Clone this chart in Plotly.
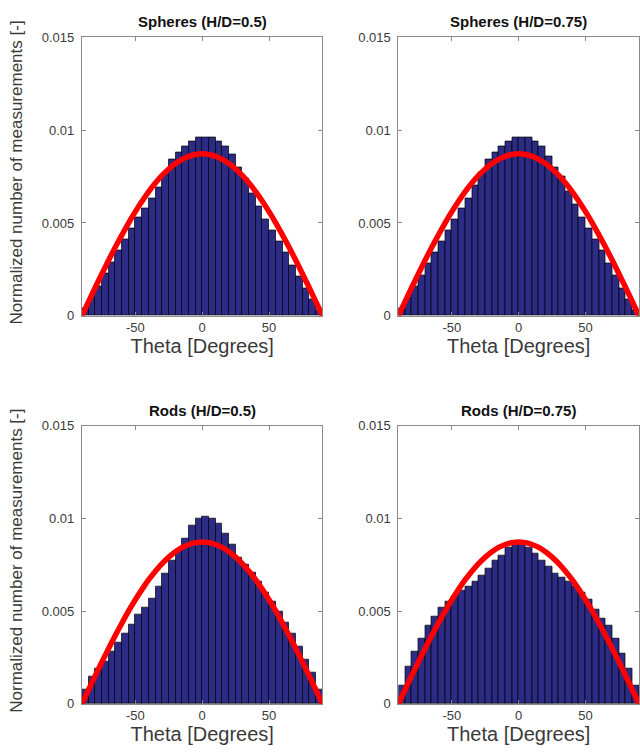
import plotly.graph_objects as go

# ---------------- data ----------------
theta_bins = [-87.5, -82.5, -77.5, -72.5, -67.5, -62.5, -57.5, -52.5, -47.5, -42.5,
              -37.5, -32.5, -27.5, -22.5, -17.5, -12.5, -7.5, -2.5,
              2.5, 7.5, 12.5, 17.5, 22.5, 27.5, 32.5, 37.5, 42.5, 47.5,
              52.5, 57.5, 62.5, 67.5, 72.5, 77.5, 82.5, 87.5]

spheres_05 = [0.0004, 0.0010, 0.0016, 0.0023, 0.0029, 0.0035, 0.0041, 0.0047, 0.0053, 0.0058,
              0.0063, 0.0069, 0.0076, 0.0084, 0.0088, 0.0091, 0.0094, 0.0096,
              0.0096, 0.0096, 0.0094, 0.0091, 0.0087, 0.0080, 0.0074, 0.0066, 0.0059, 0.0052,
              0.0046, 0.0040, 0.0034, 0.0027, 0.0021, 0.0015, 0.0009, 0.0003]

spheres_075 = [0.0004, 0.0010, 0.0016, 0.0022, 0.0028, 0.0034, 0.0040, 0.0046, 0.0052, 0.0058,
               0.0063, 0.0070, 0.0077, 0.0084, 0.0088, 0.0091, 0.0094, 0.0096,
               0.0096, 0.0096, 0.0094, 0.0091, 0.0086, 0.0080, 0.0075, 0.0067, 0.0060, 0.0053,
               0.0047, 0.0041, 0.0035, 0.0028, 0.0022, 0.0015, 0.0009, 0.0003]

rods_05 = [0.0008, 0.0015, 0.0019, 0.0023, 0.0028, 0.0033, 0.0038, 0.0043, 0.0048, 0.0052,
           0.0057, 0.0063, 0.0070, 0.0077, 0.0083, 0.0089, 0.0096, 0.0100,
           0.0101, 0.0100, 0.0097, 0.0092, 0.0086, 0.0079, 0.0075, 0.0071, 0.0066, 0.0060,
           0.0055, 0.0050, 0.0044, 0.0038, 0.0031, 0.0024, 0.0017, 0.0008]

rods_075 = [0.0010, 0.0020, 0.0028, 0.0035, 0.0042, 0.0047, 0.0052, 0.0055, 0.0058, 0.0061,
            0.0063, 0.0066, 0.0069, 0.0073, 0.0077, 0.0080, 0.0084, 0.0086,
            0.0086, 0.0084, 0.0081, 0.0077, 0.0074, 0.0070, 0.0068, 0.0066, 0.0063, 0.0060,
            0.0056, 0.0051, 0.0046, 0.0042, 0.0035, 0.0027, 0.0019, 0.0010]

fit_theta = [-90, -85, -80, -75, -70, -65, -60, -55, -50, -45, -40, -35, -30, -25, -20, -15, -10, -5,
             0, 5, 10, 15, 20, 25, 30, 35, 40, 45, 50, 55, 60, 65, 70, 75, 80, 85, 90]
fit_values = [0, 0.00076, 0.00152, 0.00226, 0.00299, 0.00369, 0.00436, 0.00501, 0.00561,
              0.00617, 0.00669, 0.00715, 0.00756, 0.00791, 0.00820, 0.00843, 0.00859, 0.00869,
              0.00873,
              0.00869, 0.00859, 0.00843, 0.00820, 0.00791, 0.00756, 0.00715, 0.00669, 0.00617,
              0.00561, 0.00501, 0.00436, 0.00369, 0.00299, 0.00226, 0.00152, 0.00076, 0]

panel_titles = ["Spheres (H/D=0.5)", "Spheres (H/D=0.75)", "Rods (H/D=0.5)", "Rods (H/D=0.75)"]
panel_data = [spheres_05, spheres_075, rods_05, rods_075]

x_tick_vals = [-50, 0, 50]
x_tick_text = ["-50", "0", "50"]
y_tick_vals = [0, 0.005, 0.01, 0.015]
y_tick_text = ["0", "0.005", "0.01", "0.015"]

x_title = "Theta [Degrees]"
y_title = "Normalized number of measurements [-]"

# ---------------- layout geometry (pixels) ----------------
W, H = 640, 756
x_doms_px = [(82, 323), (399, 640), (82, 323), (399, 640)]
y_doms_px = [(31, 315), (31, 315), (427, 711), (427, 711)]

BAR_COLOR = "#2c2b85"
FONT = "Liberation Sans, Arial, Helvetica, sans-serif"
LINE_COL = "#8a8a8a"
TEXT_COL = "#3a3a3a"

fig = go.Figure()
annotations = []
layout_axes = {}

for i in range(4):
    xa = "x" if i == 0 else f"x{i+1}"
    ya = "y" if i == 0 else f"y{i+1}"
    fig.add_trace(go.Bar(
        x=theta_bins, y=panel_data[i], xaxis=xa, yaxis=ya,
        marker=dict(color=BAR_COLOR, line=dict(color="#000000", width=0.7)),
        showlegend=False, hoverinfo="x+y"))
    fig.add_trace(go.Scatter(
        x=fit_theta, y=fit_values, xaxis=xa, yaxis=ya, mode="lines",
        line=dict(color="#ff0000", width=5.5, shape="spline"),
        showlegend=False))

    x0, x1 = x_doms_px[i]
    yt, yb = y_doms_px[i]
    xdom = [x0 / W, min(x1 / W, 1.0)]
    ydom = [(H - yb) / H, (H - yt) / H]
    xkey = "xaxis" if i == 0 else f"xaxis{i+1}"
    ykey = "yaxis" if i == 0 else f"yaxis{i+1}"
    layout_axes[xkey] = dict(
        domain=xdom, anchor=ya, range=[-90, 90],
        tickmode="array", tickvals=x_tick_vals, ticktext=x_tick_text,
        ticks="inside", ticklen=4, tickcolor=LINE_COL,
        showline=True, linecolor=LINE_COL, linewidth=1, mirror="ticks",
        showgrid=False, zeroline=False,
        tickfont=dict(family=FONT, size=13, color=TEXT_COL),
        title=dict(text=x_title, standoff=3,
                   font=dict(family=FONT, size=20, color=TEXT_COL)),
    )
    layout_axes[ykey] = dict(
        domain=ydom, anchor=xa, range=[0, 0.015],
        tickmode="array", tickvals=y_tick_vals, ticktext=y_tick_text,
        ticks="inside", ticklen=4, tickcolor=LINE_COL,
        showline=True, linecolor=LINE_COL, linewidth=1, mirror="ticks",
        showgrid=False, zeroline=False, ticklabelstandoff=4,
        tickfont=dict(family=FONT, size=13, color=TEXT_COL),
    )
    annotations.append(dict(
        text="<b>" + panel_titles[i] + "</b>", xref="paper", yref="paper",
        x=(x0 + (x1 - x0) / 2) / W,
        y=(H - yt + 5) / H, xanchor="center", yanchor="bottom", showarrow=False,
        font=dict(family=FONT, size=15, color="#111111")))
    if i in (0, 2):
        annotations.append(dict(
            text=y_title, xref="paper", yref="paper",
            x=17 / W, y=(H - (yt + yb) / 2 + 4) / H, xanchor="center", yanchor="middle",
            textangle=-90, showarrow=False,
            font=dict(family=FONT, size=17, color=TEXT_COL)))

fig.update_layout(
    width=W, height=H, margin=dict(l=0, r=0, t=0, b=0),
    paper_bgcolor="white", plot_bgcolor="white",
    bargap=0, annotations=annotations, **layout_axes)

fig.write_html("out.html")
